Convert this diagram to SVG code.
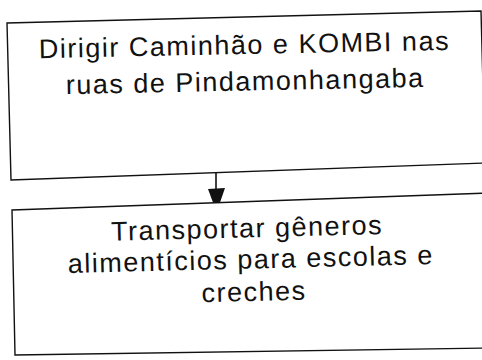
<svg xmlns="http://www.w3.org/2000/svg" width="482" height="360" viewBox="0 0 482 360">
  <style>
    .box { fill: #ffffff; stroke: #111111; stroke-width: 1.4; stroke-linejoin: miter; }
    .lbl { font-family: "Liberation Sans", Arial, sans-serif; font-size: 27px; letter-spacing: 1.5px; fill: #111111; text-anchor: middle; }
    .conn { stroke: #111111; stroke-width: 1.6; fill: none; }
    .head { fill: #111111; }
  </style>
  <rect x="0" y="0" width="482" height="360" fill="#ffffff"/>
  <g id="node-dirigir">
    <polygon class="box" points="7,23 481,11 485,163 11,180"/>
    <g transform="rotate(-1.15 245 72)">
      <text class="lbl" x="245" y="54">Dirigir Caminhão e KOMBI nas</text>
      <text class="lbl" x="245" y="90.5">ruas de Pindamonhangaba</text>
    </g>
  </g>
  <g id="node-transportar">
    <polygon class="box" points="12,210 490,193 490,348 15,355"/>
    <g transform="rotate(-1.4 250 268)">
      <text class="lbl" x="248" y="237.3">Transportar gêneros</text>
      <text class="lbl" x="251" y="268.5">alimentícios para escolas e</text>
      <text class="lbl" x="253.5" y="301">creches</text>
    </g>
  </g>
  <g id="connectors">
    <line class="conn" x1="216" y1="173" x2="216" y2="190"/>
    <polygon class="head" points="208,189 225,188 220,202.5 213,202.5"/>
  </g>
</svg>
